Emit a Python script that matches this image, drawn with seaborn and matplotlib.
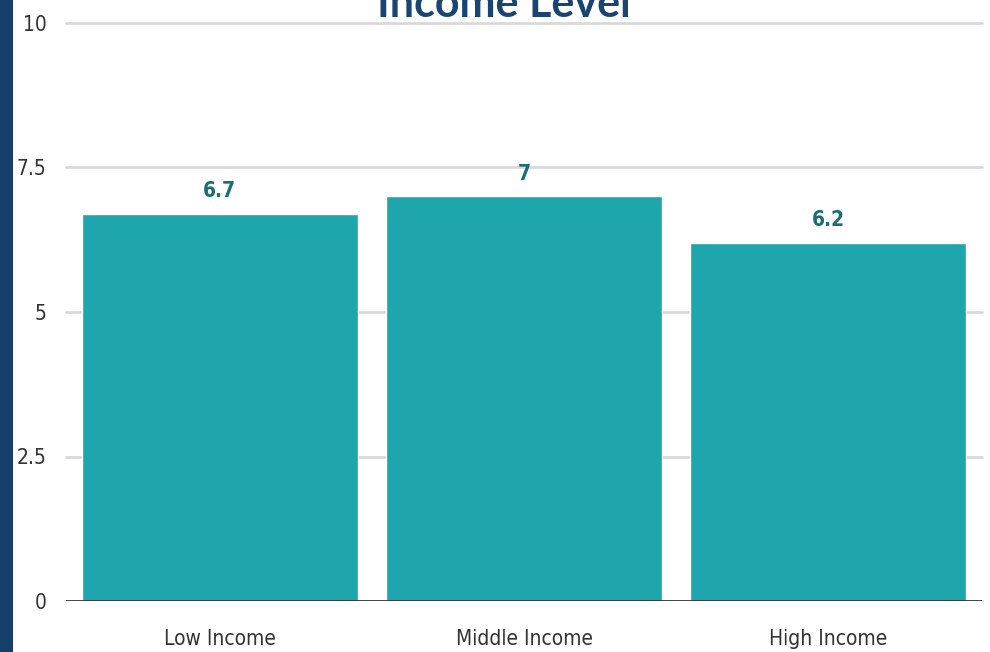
import matplotlib
matplotlib.use("Agg")
import matplotlib.pyplot as plt
import seaborn as sns
from matplotlib.patches import Rectangle

# chart data
categories = ["Low Income", "Middle Income", "High Income"]
values = [6.7, 7, 6.2]
value_labels = ["6.7", "7", "6.2"]
y_ticks = [0, 2.5, 5, 7.5, 10]
y_tick_labels = ["0", "2.5", "5", "7.5", "10"]

BAR_COLOR = "#1fa5ac"
LABEL_COLOR = "#1b6f72"
TITLE_COLOR = "#1a4570"
STRIP_COLOR = "#153f6b"

sns.set_style("white")
plt.rcParams["font.family"] = ["DejaVu Sans"]
plt.rcParams["font.stretch"] = "condensed"

fig = plt.figure(figsize=(9.9, 6.52), dpi=100)
# dark strip on the left edge
fig.add_artist(Rectangle((0, 0), 13 / 990, 1, transform=fig.transFigure,
                         facecolor=STRIP_COLOR, edgecolor="none"))

ax = fig.add_axes([66 / 990, 51 / 652, 916 / 990, 578 / 652])
sns.barplot(x=categories, y=values, color=BAR_COLOR, width=0.906,
            saturation=1, ax=ax, zorder=3)

ax.set_xlim(-0.506, 2.506)
ax.set_ylim(0, 10)
ax.set_yticks(y_ticks)
ax.set_yticklabels(y_tick_labels)
ax.set_xlabel("")
ax.set_ylabel("")

for y in y_ticks[1:]:
    ax.axhline(y, color="#d9d9d9", lw=2, zorder=1, clip_on=False)
ax.axhline(0, color="#333333", lw=2, zorder=4)

for s in ax.spines.values():
    s.set_visible(False)
ax.tick_params(axis="both", length=0, labelsize=15, labelcolor="#333333")
ax.tick_params(axis="y", pad=14)
ax.tick_params(axis="x", pad=20)

ax.bar_label(ax.containers[0], labels=value_labels, padding=9,
             fontsize=15, fontweight="bold", color=LABEL_COLOR)

fig.text(504 / 990, 1 - 17 / 652, "Income Level", ha="center", va="baseline",
         fontsize=31, fontweight="bold", color=TITLE_COLOR,
         family=["Lato", "DejaVu Sans"], fontstretch="normal")

fig.savefig("out.png", dpi=100, facecolor="white")
